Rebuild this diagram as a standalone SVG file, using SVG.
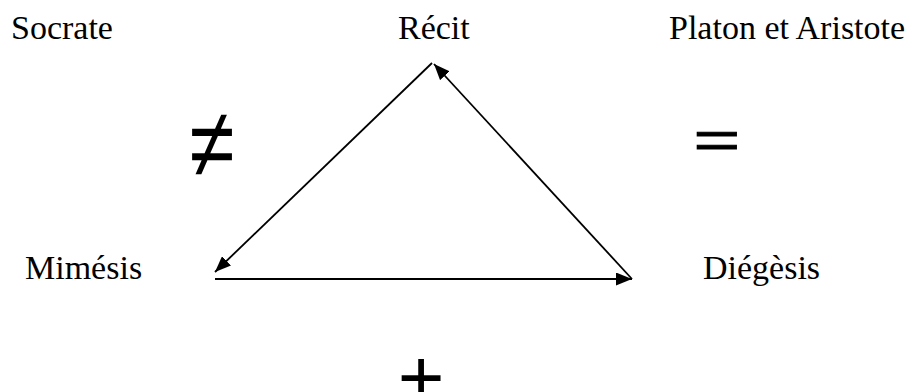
<svg xmlns="http://www.w3.org/2000/svg" width="911" height="392" viewBox="0 0 911 392">
<style>
.lbl{font-family:"Liberation Serif","Times New Roman",serif;font-size:34px;fill:#000}
.sym{font-family:"Liberation Sans",Arial,sans-serif;fill:#000}
.edge{stroke:#000;stroke-width:1.8;fill:none}
</style>
<defs>
<marker id="ah" viewBox="0 0 16 13" refX="16" refY="6.5" markerWidth="16" markerHeight="13" markerUnits="userSpaceOnUse" orient="auto">
<path d="M0,0 L16,6.5 L0,13 Z" fill="#000"/>
</marker>
</defs>
<rect width="911" height="392" fill="#fff"/>
<g id="socrate"><text class="lbl" x="11" y="39">Socrate</text></g>
<g id="recit"><text class="lbl" x="398" y="39">Récit</text></g>
<g id="platon"><text class="lbl" x="669" y="39">Platon et Aristote</text></g>
<g id="mimesis"><text class="lbl" x="25" y="279">Mimésis</text></g>
<g id="diegesis"><text class="lbl" x="703" y="279">Diégèsis</text></g>
<g id="neq"><text class="sym" x="212" y="172" font-size="82" text-anchor="middle" transform="translate(212 145) scale(1 1.2) translate(-212 -145)">≠</text></g>
<g id="eq"><text class="sym" x="717" y="167" font-size="80" text-anchor="middle" stroke="#000" stroke-width="1.4" transform="translate(717 140) scale(1 0.65) translate(-717 -140)">=</text></g>
<g id="plus"><text class="sym" x="421" y="405" font-size="80" text-anchor="middle">+</text></g>
<g id="connectors">
<line class="edge" x1="432" y1="63" x2="215" y2="272" marker-end="url(#ah)"/>
<line class="edge" x1="632" y1="279" x2="434" y2="64" marker-end="url(#ah)"/>
<line class="edge" x1="215" y1="279" x2="632" y2="279" marker-end="url(#ah)"/>
</g>
</svg>
